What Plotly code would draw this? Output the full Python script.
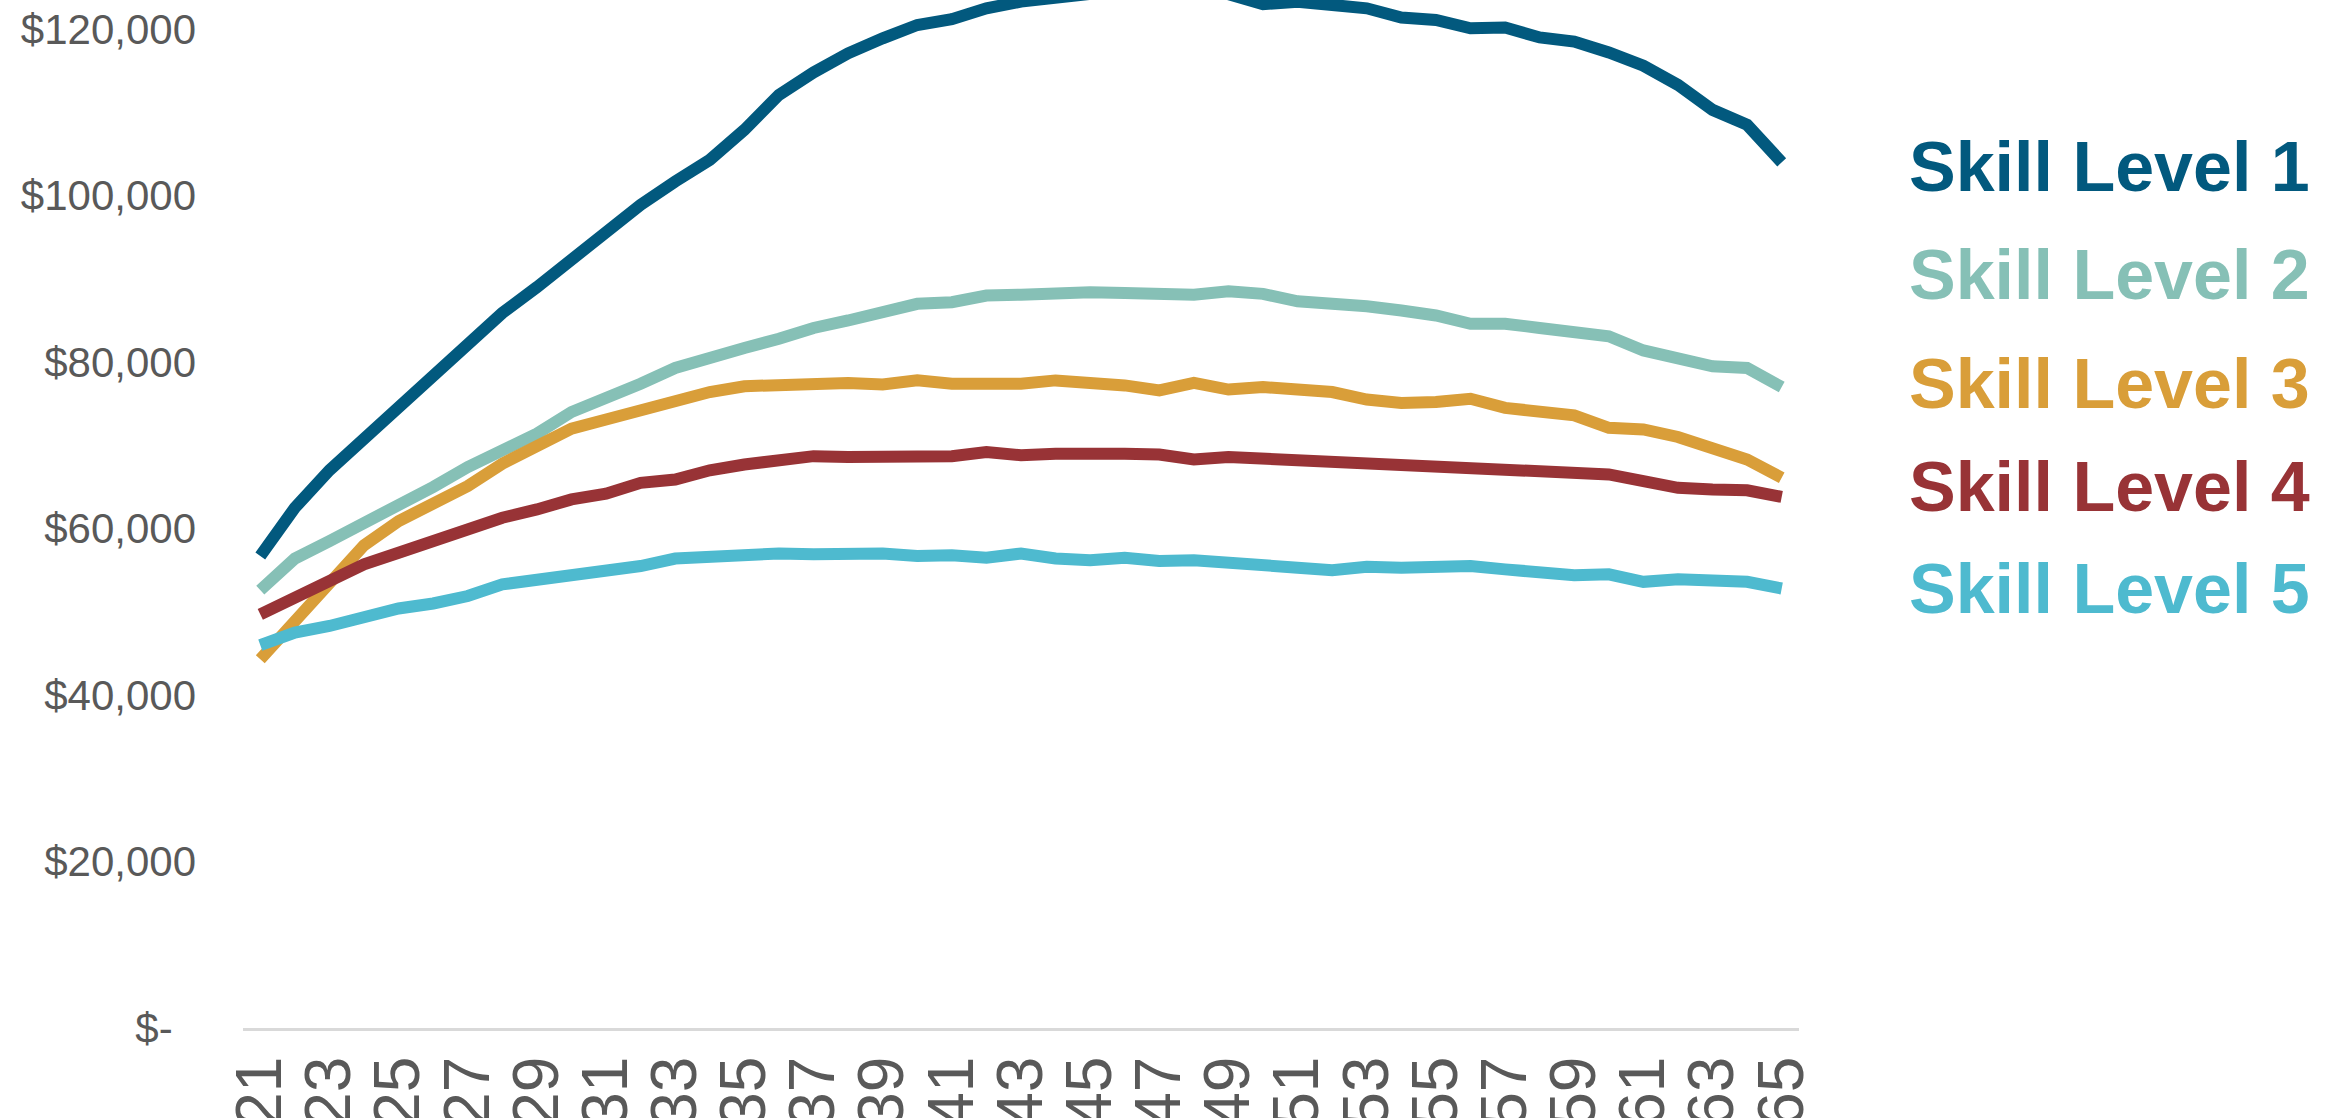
import plotly.graph_objects as go

ages = list(range(21, 66))

series_names = ["Skill Level 1", "Skill Level 2", "Skill Level 3", "Skill Level 4", "Skill Level 5"]

level1 = [56700, 62500, 67000, 70800, 74600, 78500, 82500, 85900, 89000, 92300,
          96000, 98900, 101700, 104300, 107900, 112100, 114800, 117100, 118900, 120500,
          121200, 122500, 123300, 123900, 124300, 124700, 125000, 124800, 124200, 123000,
          123300, 122900, 122500, 121400, 121100, 120100, 120200, 119000, 118500, 117200,
          115600, 113300, 110300, 108500, 104000]

level2 = [52600, 56400, 58500, 60600, 62800, 65000, 67400, 69400, 71400, 74000,
          75600, 77400, 79300, 80600, 81700, 82800, 84100, 85000, 86100, 87000,
          87200, 88000, 88100, 88300, 88400, 88300, 88200, 88100, 88500, 88200,
          87300, 87100, 86700, 86200, 85600, 84600, 84600, 84100, 83700, 83100,
          81400, 80300, 79500, 79300, 77000]

level3 = [44300, 48800, 53400, 58000, 60900, 63100, 65100, 67800, 69900, 72000,
          73100, 74200, 75400, 76400, 77100, 77300, 77500, 77500, 77300, 77800,
          77400, 77300, 77400, 77800, 77600, 77200, 76600, 77500, 76700, 77000,
          76700, 76400, 75500, 75100, 75200, 75600, 74500, 74000, 73600, 72100,
          71900, 71000, 69700, 68300, 66100]

level4 = [49700, 51800, 53900, 55700, 57100, 58600, 60100, 61300, 62300, 63500,
          64200, 65500, 65900, 67000, 67700, 68300, 68700, 68600, 68700, 68900,
          68700, 69200, 68800, 69000, 69100, 69000, 68900, 68300, 68600, 68400,
          68300, 68100, 67700, 67500, 67200, 67100, 67100, 66600, 66500, 66500,
          65700, 64900, 64700, 64600, 63800]

level5 = [46000, 47500, 48300, 49500, 50400, 51000, 51900, 53300, 53800, 54200,
          54800, 55500, 56400, 56700, 56800, 57000, 56900, 57000, 57000, 56700,
          56800, 56500, 57000, 56400, 56200, 56500, 56100, 56200, 56000, 55700,
          55300, 55000, 55400, 55300, 55300, 55500, 55100, 54700, 54400, 54500,
          53600, 53900, 53900, 53600, 52800]

y_tick_vals = [0, 20000, 40000, 60000, 80000, 100000, 120000]
y_tick_text = ["$-\u00a0\u00a0", "$20,000", "$40,000", "$60,000", "$80,000", "$100,000", "$120,000"]
x_tick_vals = ages[::2]

colors = ["#02597E", "#86C0B6", "#D99E39", "#983336", "#4EBACF"]
all_series = [level1, level2, level3, level4, level5]

W, H = 2333, 1118
ML, MR, MT, MB = 243, 534, 0, 90
plot_w = W - ML - MR
plot_h = H - MT - MB

fig = go.Figure()
for name, vals, col in zip(series_names, all_series, colors):
    fig.add_trace(go.Scatter(x=ages, y=vals, mode="lines", name=name,
                             line=dict(color=col, width=12), showlegend=False,
                             hoverinfo="skip"))

label_y_px = [167, 275, 384, 487, 589]
label_x_px = 1907
for name, col, ypx in zip(series_names, colors, label_y_px):
    fig.add_annotation(text="<b>" + name + "</b>", xref="paper", yref="paper",
                       x=(label_x_px - ML) / plot_w, y=(H - MB - ypx) / plot_h,
                       xanchor="left", yanchor="middle", showarrow=False,
                       font=dict(family="Liberation Sans, Arial, sans-serif", size=70, color=col))

fig.update_layout(
    width=W, height=H,
    margin=dict(l=ML, r=MR, t=MT, b=MB, pad=0),
    paper_bgcolor="white", plot_bgcolor="white",
    font=dict(family="Liberation Sans, Arial, sans-serif", color="#595959"),
)
fig.update_xaxes(range=[20.5, 65.5], tickmode="array", tickvals=x_tick_vals,
                 ticktext=[str(v) for v in x_tick_vals], tickangle=-90,
                 tickfont=dict(size=64, color="#595959"), showgrid=False, zeroline=False,
                 showline=True, linecolor="#D9D9D9", linewidth=3, ticks="",
                 ticklabelstandoff=0, automargin=False, fixedrange=True)
fig.update_yaxes(range=[0, 123500], tickmode="array", tickvals=y_tick_vals,
                 ticktext=y_tick_text, tickfont=dict(size=42, color="#595959"),
                 showgrid=False, zeroline=False, showline=False, ticks="",
                 ticklabelstandoff=46, automargin=False, fixedrange=True)

fig.write_html("out.html", config={"displayModeBar": False},
               post_script="document.body.style.margin='0';document.body.style.overflow='hidden';")
